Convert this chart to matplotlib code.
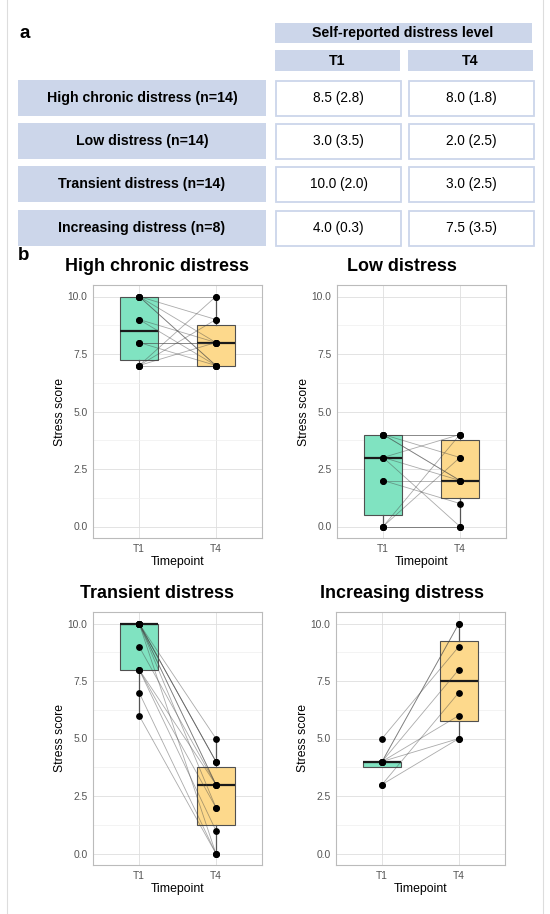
import matplotlib
matplotlib.use("Agg")
import matplotlib.pyplot as plt
from matplotlib.patches import Rectangle

plt.rcParams['font.family'] = ['Liberation Sans', 'DejaVu Sans']

# ---- panel a: summary table ----
group_labels = ["High chronic distress (n=14)", "Low distress (n=14)",
                "Transient distress (n=14)", "Increasing distress (n=8)"]
t1_summary = ["8.5 (2.8)", "3.0 (3.5)", "10.0 (2.0)", "4.0 (0.3)"]
t4_summary = ["8.0 (1.8)", "2.0 (2.5)", "3.0 (2.5)", "7.5 (3.5)"]

# ---- panel b: paired stress scores (T1[i] -> T4[i]) ----
timepoints = ["T1", "T4"]
panel_titles = ["High chronic distress", "Low distress",
                "Transient distress", "Increasing distress"]

high_t1 = [10, 10, 10, 10, 10, 9, 9, 8, 8, 8, 7, 7, 7, 7]
high_t4 = [10, 9, 8, 7, 7, 8, 7, 8, 7, 8, 7, 10, 9, 8]

low_t1 = [4, 4, 4, 4, 4, 3, 3, 3, 2, 2, 0, 0, 0, 0]
low_t4 = [4, 3, 2, 2, 4, 2, 0, 4, 2, 1, 0, 0, 3, 4]

trans_t1 = [6, 7, 8, 8, 8, 9, 10, 10, 10, 10, 10, 10, 10, 10]
trans_t4 = [0, 0, 3, 1, 2, 3, 5, 4, 4, 4, 3, 3, 2, 0]

inc_t1 = [3, 3, 4, 4, 4, 4, 4, 5]
inc_t4 = [5, 7, 10, 10, 8, 6, 5, 9]

y_ticks = [0, 2.5, 5, 7.5, 10]
y_minor = [1.25, 3.75, 6.25, 8.75]

W, H = 550, 914
LABEL_FILL = "#CCD6EA"
T1_COLOR = "#80E3C1"
T4_COLOR = "#FDD98C"

fig = plt.figure(figsize=(W / 100, H / 100), dpi=100)

# background axes in pixel coordinates for the table and frame
bg = fig.add_axes([0, 0, 1, 1])
bg.set_xlim(0, W)
bg.set_ylim(H, 0)
bg.axis("off")

bg.plot([7, 7], [0, H], color="#DDDDDD", lw=0.8)
bg.plot([543, 543], [0, H], color="#DDDDDD", lw=0.8)

bg.text(19, 34, "a", fontsize=13.5, fontweight="bold", va="center", ha="left")
bg.text(18, 256, "b", fontsize=13.5, fontweight="bold", va="center", ha="left")

# header
bg.add_patch(Rectangle((275, 23), 257, 20, facecolor=LABEL_FILL, edgecolor="none"))
bg.text(403, 33.5, "Self-reported distress level", fontsize=10.2, fontweight="bold",
        ha="center", va="center")
col_x = [275, 408]
for x0, tp in zip(col_x, timepoints):
    bg.add_patch(Rectangle((x0, 50), 125, 21, facecolor=LABEL_FILL, edgecolor="none"))
    bg.text(x0 + 62.5, 61, tp, fontsize=10.2, fontweight="bold", ha="center", va="center")

row_top = [80, 123, 166, 210]
row_h = 36
for i, label in enumerate(group_labels):
    y0 = row_top[i]
    bg.add_patch(Rectangle((18, y0), 248, row_h, facecolor=LABEL_FILL, edgecolor="none"))
    bg.text(142, y0 + row_h / 2, label, fontsize=10.2, fontweight="bold",
            ha="center", va="center")
    for x0, val in zip(col_x, [t1_summary[i], t4_summary[i]]):
        bg.add_patch(Rectangle((x0 + 1, y0 + 0.5), 125, row_h - 1, facecolor="white",
                               edgecolor=LABEL_FILL, lw=1.3))
        bg.text(x0 + 63.5, y0 + row_h / 2, val, fontsize=9.8, ha="center", va="center")

# ---- panel b plots ----
panel_data = [(high_t1, high_t4), (low_t1, low_t4), (trans_t1, trans_t4), (inc_t1, inc_t4)]
panel_px = [(93, 285), (337, 285), (93, 612), (336, 612)]
title_cx = [157, 402, 157, 402]
pw, ph = 169, 253

for (t1, t4), title, (lx, ty), tcx in zip(panel_data, panel_titles, panel_px, title_cx):
    ax = fig.add_axes([lx / W, 1 - (ty + ph) / H, pw / W, ph / H])
    ax.set_zorder(2)

    bp = ax.boxplot([t1, t4], positions=[1, 2], widths=0.5, patch_artist=True,
                    showfliers=False, showcaps=False, whis=1.5,
                    medianprops=dict(color="#1A1A1A", lw=1.6),
                    whiskerprops=dict(color="#555555", lw=0.9),
                    boxprops=dict(edgecolor="#505050", lw=0.8))
    for patch, c in zip(bp["boxes"], [T1_COLOR, T4_COLOR]):
        patch.set_facecolor(c)
        patch.set_zorder(2)

    for a, b in zip(t1, t4):
        ax.plot([1, 2], [a, b], color="#444444", lw=0.6, alpha=0.45, zorder=3)
    ax.scatter([1] * len(t1), t1, s=15, color="black", zorder=4)
    ax.scatter([2] * len(t4), t4, s=15, color="black", zorder=4)

    ax.set_xlim(0.4, 2.6)
    ax.set_ylim(-0.5, 10.5)
    ax.set_xticks([1, 2])
    ax.set_xticklabels(timepoints)
    ax.set_yticks(y_ticks)
    ax.set_yticklabels(["%.1f" % v for v in y_ticks])
    ax.set_yticks(y_minor, minor=True)
    ax.tick_params(axis="both", which="both", length=0, labelsize=7.4,
                   labelcolor="#555555", pad=4)
    ax.grid(True, which="major", color="#DEDEDE", lw=0.6, zorder=0)
    ax.grid(True, which="minor", axis="y", color="#EFEFEF", lw=0.5, zorder=0)
    ax.set_axisbelow(True)
    for sp in ax.spines.values():
        sp.set_color("#BBBBBB")
        sp.set_linewidth(0.8)

    ax.set_title(title, fontsize=12.9, fontweight="bold", pad=10,
                 x=(tcx - lx) / pw, ha="center")
    ax.set_ylabel("Stress score", fontsize=8.8, labelpad=1)
    ax.set_xlabel("Timepoint", fontsize=8.8, labelpad=2)

fig.savefig("out.png", dpi=100)
